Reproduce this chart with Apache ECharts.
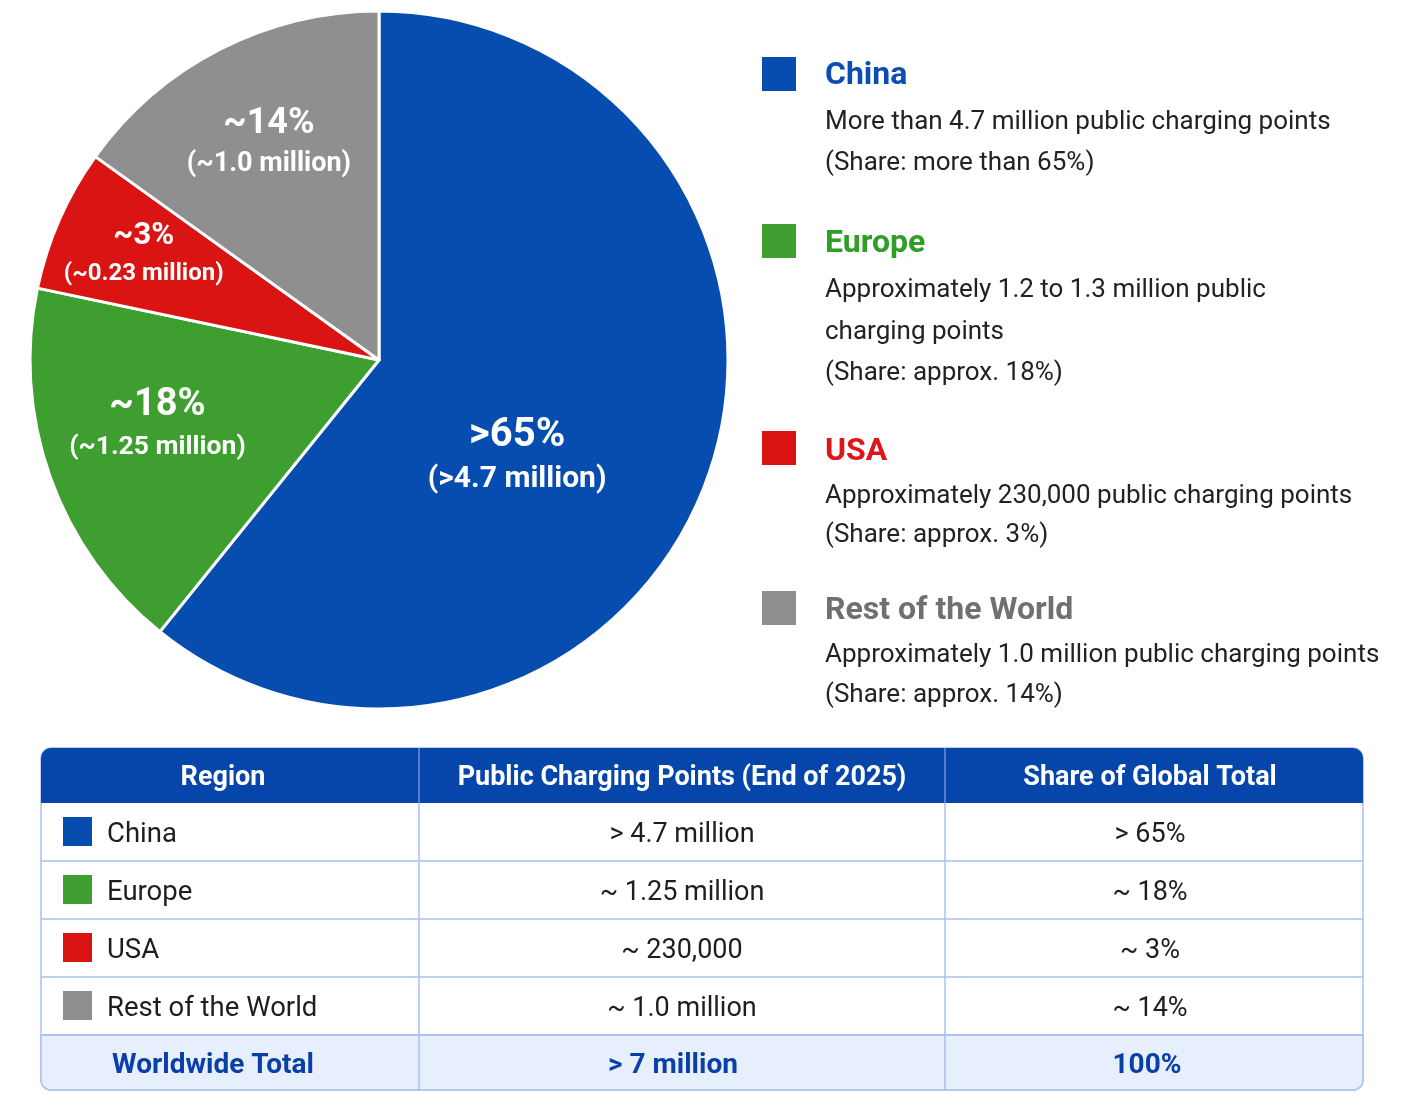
<!DOCTYPE html>
<html>
<head>
<meta charset="utf-8">
<script src="https://cdn.jsdelivr.net/npm/echarts@6/dist/echarts.min.js"></script>
<style>
  html, body { margin: 0; padding: 0; background: #ffffff; }
  #main { width: 1410px; height: 1115px; }
</style>
</head>
<body>
<div id="main"></div>
<script>
// ---- data ----
var regions = ['China', 'Europe', 'USA', 'Rest of the World'];
// slice sizes as drawn in the picture (percent of the circle)
var sliceShare = [60.8, 17.5, 6.6, 15.1];
var pctLabels = ['>65%', '~18%', '~3%', '~14%'];
var amountLabels = ['(>4.7 million)', '(~1.25 million)', '(~0.23 million)', '(~1.0 million)'];
var legendLines = [
  ['More than 4.7 million public charging points', '(Share: more than 65%)'],
  ['Approximately 1.2 to 1.3 million public', 'charging points', '(Share: approx. 18%)'],
  ['Approximately 230,000 public charging points', '(Share: approx. 3%)'],
  ['Approximately 1.0 million public charging points', '(Share: approx. 14%)']
];
var tableHeaders = ['Region', 'Public Charging Points (End of 2025)', 'Share of Global Total'];
var tablePoints = ['> 4.7 million', '~ 1.25 million', '~ 230,000', '~ 1.0 million'];
var tableShares = ['> 65%', '~ 18%', '~ 3%', '~ 14%'];
var totalRow = ['Worldwide Total', '> 7 million', '100%'];

// ---- styles ----
var sliceColors = ['#074db0', '#3e9e2f', '#da1313', '#8f8f8f'];
var titleColors = ['#0b4db3', '#2f9e26', '#e0141b', '#707070'];
var FONT = 'Roboto, "Noto Sans", sans-serif';

var pieCenter = [379, 360], pieRadius = 349;
// where each label sits: [angle shift from slice middle (deg), radius fraction]
var labelSpot = [[15, 0.48], [3.7, 0.66], [0.6, 0.74], [0.4, 0.70]];
// [pct size, amount size, amount line height]
var labelSizes = [[40, 30, 44], [38, 26.5, 42], [31, 24, 40], [36, 27, 42]];

var chart = echarts.init(document.getElementById('main'));

var total = sliceShare.reduce(function (a, b) { return a + b; }, 0);
var midAngles = [];
var acc = 0;
sliceShare.forEach(function (v) {
  midAngles.push((acc + v / 2) / total * 360);
  acc += v;
});

var pieData = regions.map(function (name, i) {
  return {
    name: name,
    value: sliceShare[i],
    itemStyle: { color: sliceColors[i] },
    label: {
      rich: {
        p: { fontSize: labelSizes[i][0], fontWeight: 'bold', color: '#fff', fontFamily: FONT, lineHeight: labelSizes[i][0] * 1.1 },
        a: { fontSize: labelSizes[i][1], fontWeight: 'bold', color: '#fff', fontFamily: FONT, lineHeight: labelSizes[i][2] }
      }
    }
  };
});

// ---- graphic: legend on the right ----
var graphics = [];
var legendSquareY = [57, 224, 431, 591];
var legendTitleY = [76, 244, 452, 611];
var legendLineY = [[122, 163], [290, 332, 373], [496, 535], [655, 695]];
regions.forEach(function (name, i) {
  graphics.push({
    type: 'rect', shape: { x: 762, y: legendSquareY[i], width: 34, height: 34 },
    style: { fill: sliceColors[i] }
  });
  graphics.push({
    type: 'text', x: 825, y: legendTitleY[i],
    style: { text: name, fill: titleColors[i], font: 'bold 32px ' + FONT, textVerticalAlign: 'middle' }
  });
  legendLines[i].forEach(function (line, j) {
    graphics.push({
      type: 'text', x: 825, y: legendLineY[i][j],
      style: { text: line, fill: '#222222', font: '26px ' + FONT, textVerticalAlign: 'middle' }
    });
  });
});

// ---- graphic: table ----
var tX0 = 41, tX1 = 1363, colX = [419, 945];
var headTop = 748, headBot = 803, rowH = 58, tBot = 1090;
var gridColor = '#a9c1ec';
var colCenters = [223, 682, 1150];
var textDy = 3;

graphics.push({
  type: 'rect', shape: { x: tX0, y: headTop, width: tX1 - tX0, height: tBot - headTop, r: 10 },
  style: { fill: '#ffffff', stroke: gridColor, lineWidth: 1.5 }
});
var totalTop = headBot + rowH * regions.length;
graphics.push({
  type: 'rect', shape: { x: tX0, y: totalTop, width: tX1 - tX0, height: tBot - totalTop, r: [0, 0, 10, 10] },
  style: { fill: '#e7effc', stroke: gridColor, lineWidth: 1.5 }
});
graphics.push({
  type: 'rect', shape: { x: tX0, y: headTop, width: tX1 - tX0, height: headBot - headTop, r: [10, 10, 0, 0] },
  style: { fill: '#0645aa' }
});
// horizontal row lines
for (var r = 1; r <= regions.length; r++) {
  graphics.push({
    type: 'line', shape: { x1: tX0, y1: headBot + rowH * r, x2: tX1, y2: headBot + rowH * r },
    style: { stroke: gridColor, lineWidth: 1.5 }
  });
}
// column lines
colX.forEach(function (x) {
  graphics.push({
    type: 'line', shape: { x1: x, y1: headTop, x2: x, y2: headBot },
    style: { stroke: '#6d92d6', lineWidth: 1.5 }
  });
  graphics.push({
    type: 'line', shape: { x1: x, y1: headBot, x2: x, y2: tBot },
    style: { stroke: gridColor, lineWidth: 1.5 }
  });
});
// header texts
tableHeaders.forEach(function (h, c) {
  graphics.push({
    type: 'text', x: colCenters[c], y: (headTop + headBot) / 2 + textDy,
    style: { text: h, fill: '#ffffff', font: 'bold 27px ' + FONT, textAlign: 'center', textVerticalAlign: 'middle' }
  });
});
// body rows
regions.forEach(function (name, i) {
  var cy = headBot + rowH * i + rowH / 2;
  graphics.push({
    type: 'rect', shape: { x: 63, y: cy - 15, width: 29, height: 29 },
    style: { fill: sliceColors[i] }
  });
  graphics.push({
    type: 'text', x: 107, y: cy + textDy,
    style: { text: name, fill: '#1e1e1e', font: '27.5px ' + FONT, textVerticalAlign: 'middle' }
  });
  graphics.push({
    type: 'text', x: colCenters[1], y: cy + textDy,
    style: { text: tablePoints[i], fill: '#1e1e1e', font: '27px ' + FONT, textAlign: 'center', textVerticalAlign: 'middle' }
  });
  graphics.push({
    type: 'text', x: colCenters[2], y: cy + textDy,
    style: { text: tableShares[i], fill: '#1e1e1e', font: '27px ' + FONT, textAlign: 'center', textVerticalAlign: 'middle' }
  });
});
// total row
var totalCy = (totalTop + tBot) / 2 + textDy;
[213, 673, 1147].forEach(function (x, c) {
  graphics.push({
    type: 'text', x: x, y: totalCy,
    style: { text: totalRow[c], fill: '#0a3fa8', font: 'bold 28px ' + FONT, textAlign: 'center', textVerticalAlign: 'middle' }
  });
});

var option = {
  backgroundColor: '#ffffff',
  animation: false,
  series: [{
    type: 'pie',
    center: pieCenter,
    radius: pieRadius,
    startAngle: 90,
    clockwise: true,
    silent: true,
    itemStyle: { borderColor: '#ffffff', borderWidth: 3 },
    label: {
      show: true,
      position: 'inside',
      formatter: function (p) {
        return '{p|' + pctLabels[p.dataIndex] + '}\n{a|' + amountLabels[p.dataIndex] + '}';
      }
    },
    labelLine: { show: false },
    labelLayout: function (params) {
      var i = params.dataIndex;
      var ang = (midAngles[i] + labelSpot[i][0]) * Math.PI / 180;
      var d = pieRadius * labelSpot[i][1];
      return {
        x: pieCenter[0] + d * Math.sin(ang),
        y: pieCenter[1] - d * Math.cos(ang) + 3,
        align: 'center',
        verticalAlign: 'middle'
      };
    },
    data: pieData
  }],
  graphic: graphics
};

chart.setOption(option);
</script>
</body>
</html>
